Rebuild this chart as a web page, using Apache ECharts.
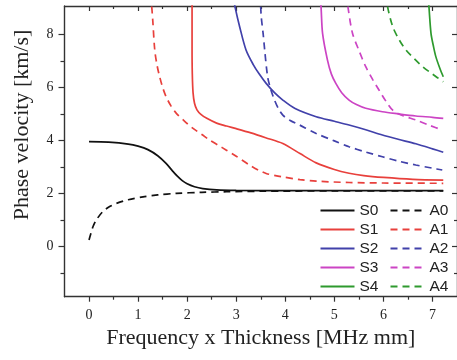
<!DOCTYPE html>
<html>
<head>
<meta charset="utf-8">
<script src="https://cdn.jsdelivr.net/npm/echarts@6/dist/echarts.min.js"></script>
<style>html,body{margin:0;padding:0;background:#fff}#c{width:457px;height:360px}</style>
</head>
<body>
<div id="c"></div>
<script>
// ---- data ----
const xMajor = [0, 1, 2, 3, 4, 5, 6, 7];
const xMinor = [0.5, 1.5, 2.5, 3.5, 4.5, 5.5, 6.5];
const yMajor = [0, 2, 4, 6, 8];
const yMinor = [-1, 1, 3, 5, 7];
const xTitle = 'Frequency x Thickness [MHz mm]';
const yTitle = 'Phase velocity [km/s]';
const symNames = ['S0', 'S1', 'S2', 'S3', 'S4'];
const antiNames = ['A0', 'A1', 'A2', 'A3', 'A4'];
const modeColors = ['#111111', '#e8403c', '#4141aa', '#cc44c4', '#2e9a2e'];

const s0 = [[0,3.95],[0.4,3.93],[0.8,3.86],[1.0,3.78],[1.2,3.65],[1.4,3.42],[1.57,3.13],[1.7,2.85],[1.8,2.65],[1.9,2.48],[2.0,2.36],[2.15,2.25],[2.32,2.18],[2.6,2.13],[3.0,2.11],[4,2.1],[5,2.1],[6,2.1],[7.22,2.1]];
const a0 = [[0,0.24],[0.04,0.5],[0.08,0.74],[0.15,1.0],[0.28,1.31],[0.42,1.5],[0.56,1.62],[0.8,1.76],[1.1,1.87],[1.4,1.94],[1.78,2.0],[2.3,2.04],[2.8,2.06],[3.5,2.08],[5,2.09],[7.22,2.09]];
const s1 = [[2.10,9.5],[2.10,7.5],[2.105,6.5],[2.12,5.8],[2.15,5.4],[2.2,5.15],[2.28,4.98],[2.4,4.83],[2.6,4.65],[2.8,4.54],[3.0,4.44],[3.3,4.28],[3.6,4.1],[3.95,3.88],[4.3,3.5],[4.63,3.15],[5.0,2.9],[5.3,2.76],[5.6,2.67],[6.0,2.6],[6.6,2.53],[7.22,2.5]];
const a1 = [[1.26,9.5],[1.3,8.5],[1.34,7.4],[1.39,6.8],[1.44,6.4],[1.5,6.0],[1.57,5.65],[1.67,5.3],[1.78,5.02],[1.95,4.72],[2.12,4.45],[2.3,4.22],[2.46,4.01],[2.63,3.82],[2.8,3.63],[3.0,3.4],[3.27,3.07],[3.45,2.88],[3.61,2.75],[3.8,2.67],[3.95,2.62],[4.3,2.52],[4.63,2.46],[5.3,2.41],[6,2.39],[7.22,2.38]];
const s2 = [[2.93,9.5],[2.98,9.0],[3.07,8.29],[3.2,7.41],[3.35,6.85],[3.47,6.5],[3.61,6.15],[3.78,5.8],[3.95,5.52],[4.2,5.2],[4.63,4.89],[5.0,4.72],[5.3,4.58],[5.64,4.4],[5.98,4.2],[6.3,4.04],[6.66,3.87],[7.0,3.68],[7.22,3.55]];
const a2 = [[3.48,9.5],[3.5,9.0],[3.51,8.66],[3.55,8.0],[3.58,7.41],[3.64,6.4],[3.7,5.95],[3.78,5.52],[3.86,5.2],[3.95,4.95],[4.1,4.75],[4.29,4.58],[4.63,4.26],[5.0,3.98],[5.3,3.76],[5.64,3.56],[5.98,3.38],[6.3,3.22],[6.66,3.07],[7.0,2.95],[7.2,2.88]];
const s3 = [[4.71,9.5],[4.73,9.0],[4.76,8.04],[4.86,7.03],[4.94,6.5],[5.03,6.15],[5.15,5.8],[5.3,5.52],[5.45,5.35],[5.64,5.21],[5.98,5.08],[6.3,5.0],[6.66,4.92],[7.0,4.87],[7.22,4.83]];
const a3 = [[5.25,9.5],[5.28,9.0],[5.37,8.04],[5.5,7.4],[5.64,6.78],[5.78,6.3],[5.91,5.9],[6.05,5.48],[6.19,5.14],[6.4,4.93],[6.66,4.77],[6.95,4.56],[7.2,4.39]];
const s4 = [[6.91,9.5],[6.93,9.0],[6.97,8.04],[7.02,7.55],[7.07,7.15],[7.15,6.72],[7.22,6.4]];
const a4 = [[6.06,9.5],[6.09,9.0],[6.19,8.29],[6.32,7.8],[6.46,7.41],[6.63,7.08],[6.8,6.78],[7.0,6.5],[7.22,6.21]];

const symData = [s0, s1, s2, s3, s4];
const antiData = [a0, a1, a2, a3, a4];

// ---- chart ----
const AX = '#333';
const serif = 'Liberation Serif';
const gridBox = {left: 64.5, top: 6, right: -1, bottom: 63.3};
const XMIN = -0.5, XMAX = 7.5, YMIN = -1.9, YMAX = 9.07;

const solidIcon = 'path://M0,0h34v1.8h-34z';
const dashIcon = 'path://M0,0h7v1.8h-7z M12,0h7v1.8h-7z M24,0h7v1.8h-7z M34,0h0v1.8h0z';

function xAx(grid, pos, vals, len, inside, line, labels, extra) {
  return Object.assign({
    type: 'value', gridIndex: grid, position: pos, min: XMIN, max: XMAX,
    axisLine: {show: line, onZero: false, lineStyle: {color: AX, width: 1.4}},
    axisTick: {show: true, inside: inside, length: len, customValues: vals, lineStyle: {color: AX, width: 1.2}},
    axisLabel: labels ? {show: true, customValues: vals, margin: 12, fontFamily: serif, fontSize: 14, color: '#222'} : {show: false},
    splitLine: {show: false}
  }, extra || {});
}
function yAx(grid, pos, vals, len, inside, line, labels) {
  return {
    type: 'value', gridIndex: grid, position: pos, min: YMIN, max: YMAX,
    axisLine: {show: line, onZero: false, lineStyle: {color: AX, width: 1.4}},
    axisTick: {show: true, inside: inside, length: len, customValues: vals, lineStyle: {color: AX, width: 1.2}},
    axisLabel: labels ? {show: true, customValues: vals, margin: 11, fontFamily: serif, fontSize: 14, color: '#222'} : {show: false},
    splitLine: {show: false}
  };
}

const series = [];
for (let i = 0; i < 5; i++) {
  series.push({name: symNames[i], type: 'line', data: symData[i], showSymbol: false, symbol: 'none',
    smooth: 0.3, clip: true, xAxisIndex: 0, yAxisIndex: 0,
    lineStyle: {color: modeColors[i], width: 1.7}, itemStyle: {color: modeColors[i]}});
  series.push({name: antiNames[i], type: 'line', data: antiData[i], showSymbol: false, symbol: 'none',
    smooth: 0.3, clip: true, xAxisIndex: 0, yAxisIndex: 0,
    lineStyle: {color: modeColors[i], width: 1.7, type: [7, 5]}, itemStyle: {color: modeColors[i]}});
}

const legendCommon = {
  orient: 'vertical', top: 202.5, itemWidth: 34, itemHeight: 2, itemGap: 3,
  textStyle: {fontFamily: 'Liberation Sans', fontSize: 15.5, color: '#222', lineHeight: 16},
  padding: 0, selectedMode: false
};

const option = {
  animation: false,
  backgroundColor: '#fff',
  grid: [Object.assign({}, gridBox), Object.assign({}, gridBox)],
  xAxis: [
    xAx(0, 'bottom', xMajor, 5, false, true, true, {
      name: xTitle, nameLocation: 'middle', nameGap: 29,
      nameTextStyle: {fontFamily: serif, fontSize: 22, color: '#222'}
    }),
    xAx(0, 'top', xMajor, 5, true, true, false),
    xAx(1, 'bottom', xMinor, 3, false, false, false),
    xAx(1, 'top', xMinor, 3, true, false, false)
  ],
  yAxis: [
    yAx(0, 'left', yMajor, 6, false, true, true),
    yAx(0, 'right', yMajor, 5, true, true, false),
    yAx(1, 'left', yMinor, 4, false, false, false),
    yAx(1, 'right', yMinor, 3, true, false, false)
  ],
  legend: [
    Object.assign({}, legendCommon, {left: 320.5, data: symNames.map(n => ({name: n, icon: solidIcon}))}),
    Object.assign({}, legendCommon, {left: 390.5, data: antiNames.map(n => ({name: n, icon: dashIcon}))})
  ],
  graphic: [{
    type: 'text', x: 22, y: 125, rotation: Math.PI / 2,
    style: {text: yTitle, fontFamily: serif, fontSize: 22, fill: '#222', align: 'center', verticalAlign: 'middle'}
  }],
  series: series
};

const chart = echarts.init(document.getElementById('c'), null, {renderer: 'canvas'});
chart.setOption(option);
</script>
</body>
</html>
